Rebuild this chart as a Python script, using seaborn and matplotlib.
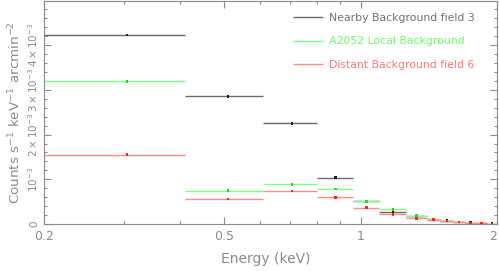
"""
Espectro de fondo: tres regiones de fondo en escala log de energía
"""
import matplotlib
matplotlib.use("Agg")
import matplotlib.pyplot as plt
import matplotlib.ticker as mticker
import seaborn as sns
import numpy as np
import pandas as pd

# bordes de los bins de energía (keV)
energia_lo = [0.20, 0.41, 0.61, 0.80, 0.96, 1.10, 1.26, 1.40, 1.50, 1.60, 1.70, 1.80, 1.90]
energia_hi = [0.41, 0.61, 0.80, 0.96, 1.10, 1.26, 1.40, 1.50, 1.60, 1.70, 1.80, 1.90, 2.00]

# cuentas (x 1e-3 counts s^-1 keV^-1 arcmin^-2)
nearby_f3 = [4.22, 2.85, 2.25, 1.04, 0.52, 0.26, 0.18, 0.11, 0.075, 0.05, 0.03, 0.02, 0.01]
a2052_local = [3.19, 0.75, 0.89, 0.78, 0.51, 0.33, 0.19, 0.11, 0.07, 0.05, 0.025, 0.015, 0.006]
distant_f6 = [1.55, 0.56, 0.74, 0.60, 0.37, 0.22, 0.13, 0.10, 0.07, 0.045, 0.025, 0.015, 0.006]

series = ['Nearby Background field 3', 'A2052 Local Background', 'Distant Background field 6']
valores = [nearby_f3, a2052_local, distant_f6]
colores_linea = ['#6a6a6a', '#80ff80', '#ff8c8c']
colores_punto = ['#202020', '#20e020', '#ff2020']
colores_texto = ['#707070', '#66ff66', '#ff7777']

filas = []
for nombre, vals in zip(series, valores):
    for lo, hi, v in zip(energia_lo, energia_hi, vals):
        filas.append({'serie': nombre, 'lo': lo, 'hi': hi,
                      'energia': (lo + hi) / 2, 'cuentas': v * 1e-3})
df = pd.DataFrame(filas)

sns.set_style('ticks')
plt.rcParams['font.family'] = ['DejaVu Sans']
gris = '#8a8a8a'

fig = plt.figure(figsize=(4.99, 2.71), dpi=100)
ax = fig.add_axes([0.088, 0.173, 0.908, 0.823])

# barras horizontales = anchura de bin
for nombre, cl in zip(series, colores_linea):
    sub = df[df['serie'] == nombre]
    ax.hlines(sub['cuentas'], sub['lo'], sub['hi'], colors=cl, lw=1.0, label=nombre)

sns.scatterplot(data=df, x='energia', y='cuentas', hue='serie',
                palette=dict(zip(series, colores_punto)), marker='s', s=3.5,
                linewidth=0, ax=ax, legend=False, zorder=3)

ax.set_xscale('log')
ax.set_xlim(0.2, 2.0)
ax.set_ylim(0, 4.98e-3)

ax.xaxis.set_major_locator(mticker.FixedLocator([0.2, 0.5, 1, 2]))
ax.xaxis.set_major_formatter(mticker.FixedFormatter(['0.2', '0.5', '1', '2']))
ax.xaxis.set_minor_locator(mticker.FixedLocator([0.3, 0.4, 0.6, 0.7, 0.8, 0.9]))
ax.xaxis.set_minor_formatter(mticker.NullFormatter())

ax.yaxis.set_major_locator(mticker.FixedLocator([0, 1e-3, 2e-3, 3e-3, 4e-3]))
ax.yaxis.set_major_formatter(mticker.FixedFormatter(
    ['0', r'$10^{-3}$', r'$2\times10^{-3}$', r'$3\times10^{-3}$', r'$4\times10^{-3}$']))
ax.yaxis.set_minor_locator(mticker.MultipleLocator(2e-4))

ax.tick_params(which='both', direction='in', top=True, right=True, color=gris,
               labelcolor=gris, width=0.8)
ax.tick_params(axis='x', labelsize=9, pad=4)
ax.tick_params(axis='y', labelsize=7.5, pad=3)
ax.tick_params(which='major', length=5)
ax.tick_params(which='minor', length=2.5)
for lab in ax.get_yticklabels():
    lab.set_rotation(90)
    lab.set_va('center')
xlabs = ax.get_xticklabels()
xlabs[-1].set_ha('right')

for s in ax.spines.values():
    s.set_color(gris)
    s.set_linewidth(0.8)

ax.set_xlabel('Energy (keV)', color=gris, fontsize=10, labelpad=5)
ax.xaxis.set_label_coords(0.49, -0.125)
ax.set_ylabel(r'Counts s$^{-1}$ keV$^{-1}$ arcmin$^{-2}$', color=gris, fontsize=9.7, labelpad=2)

leg = ax.legend(frameon=False, loc='upper left', bbox_to_anchor=(0.55, 0.947),
                borderaxespad=0, borderpad=0,
                fontsize=7.8, handlelength=2.8, handletextpad=0.55, labelspacing=1.25)
for txt, c in zip(leg.get_texts(), colores_texto):
    txt.set_color(c)

fig.savefig('out.png', dpi=100)
